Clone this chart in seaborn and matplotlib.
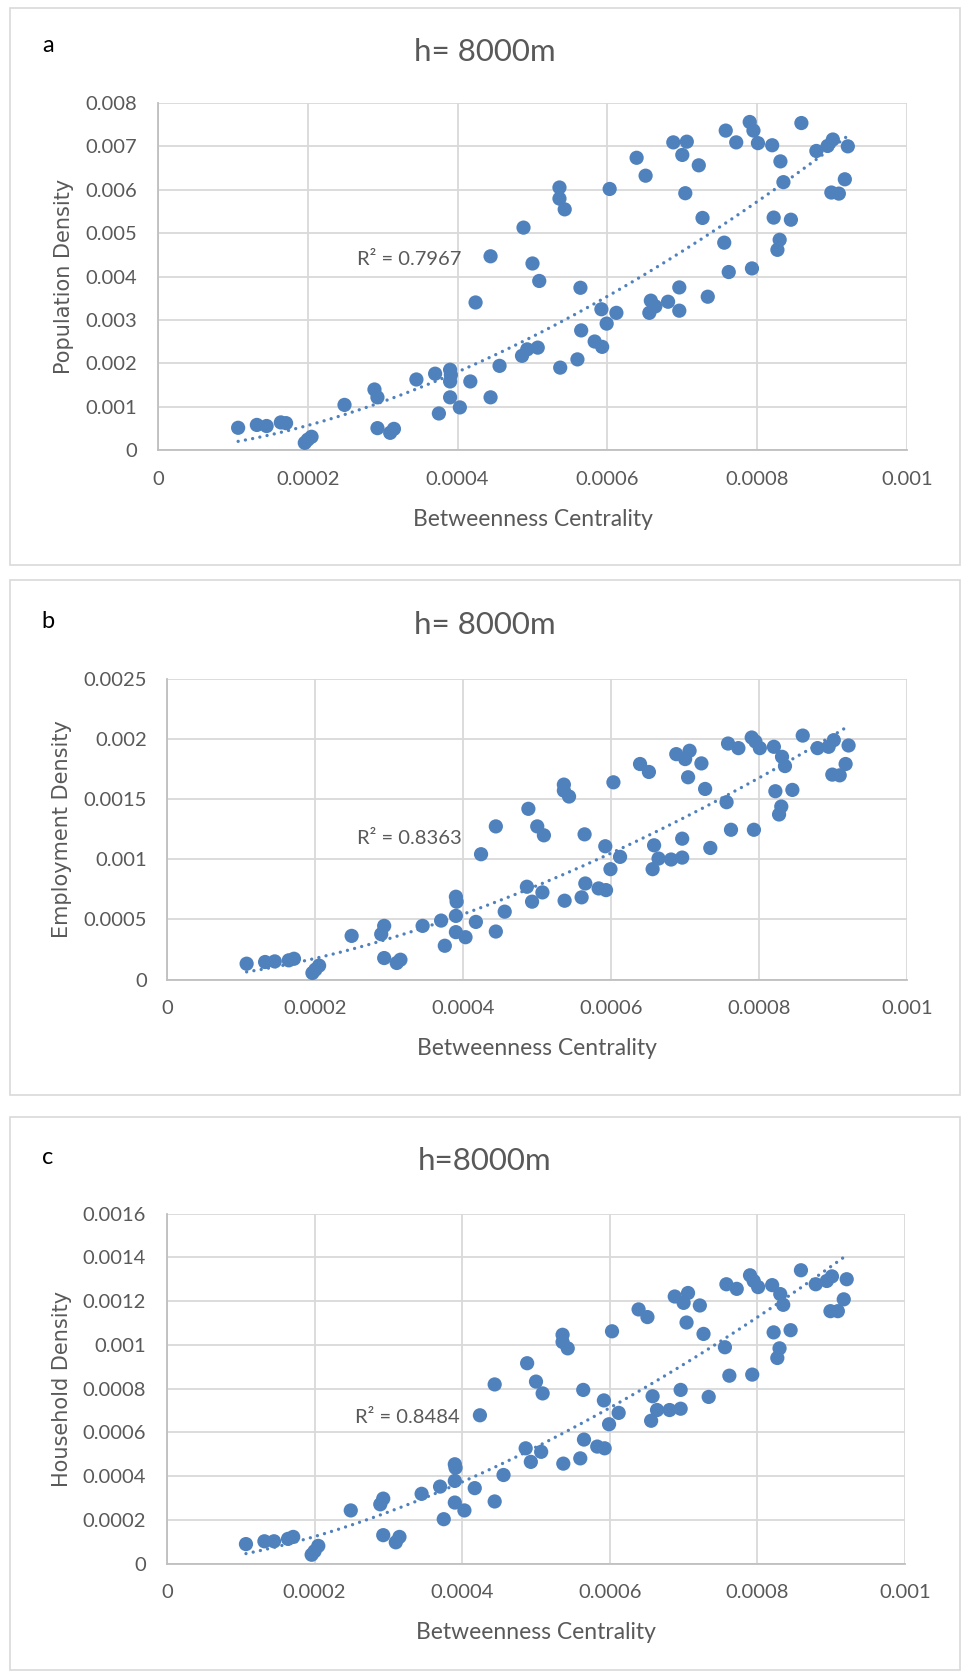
import numpy as np
import pandas as pd
import seaborn as sns
import matplotlib.pyplot as plt
from matplotlib.patches import Rectangle
from matplotlib.ticker import MultipleLocator, FuncFormatter

# --------------------------
# Data
# --------------------------
betweenness = [
    0.000107, 0.000132, 0.000145, 0.000164, 0.000171, 0.000196, 0.000200, 0.000205,
    0.000249, 0.000289, 0.000293, 0.000293, 0.000310, 0.000315, 0.000345, 0.000370,
    0.000375, 0.000390, 0.000391, 0.000390, 0.000390, 0.000403, 0.000417, 0.000424,
    0.000444, 0.000444, 0.000456, 0.000486, 0.000488, 0.000493, 0.000500, 0.000507,
    0.000509, 0.000536, 0.000536, 0.000537, 0.000543, 0.000560, 0.000564, 0.000565,
    0.000583, 0.000592, 0.000593, 0.000599, 0.000603, 0.000612, 0.000639, 0.000651,
    0.000656, 0.000658, 0.000664, 0.000681, 0.000688, 0.000696, 0.000696, 0.000700,
    0.000704, 0.000706, 0.000722, 0.000727, 0.000734, 0.000756, 0.000758, 0.000762,
    0.000772, 0.000790, 0.000793, 0.000795, 0.000801, 0.000820, 0.000822, 0.000827,
    0.000830, 0.000831, 0.000835, 0.000845, 0.000859, 0.000879, 0.000894, 0.000899,
    0.000901, 0.000909, 0.000917, 0.000921,
]

population_density = [
    0.000512, 0.000578, 0.000553, 0.000636, 0.000619, 0.000165, 0.000239, 0.000305,
    0.001040, 0.001395, 0.001214, 0.000504, 0.000396, 0.000487, 0.001626, 0.001759,
    0.000842, 0.001850, 0.001730, 0.001580, 0.001214, 0.000982, 0.001580, 0.003401,
    0.001214, 0.004466, 0.001940, 0.002171, 0.005127, 0.002320, 0.004300, 0.002360,
    0.003897, 0.006052, 0.005796, 0.001899, 0.005548, 0.002089, 0.003740, 0.002757,
    0.002501, 0.003245, 0.002378, 0.002914, 0.006018, 0.003162, 0.006737, 0.006324,
    0.003162, 0.003443, 0.003311, 0.003418, 0.007092, 0.003748, 0.003212, 0.006803,
    0.005920, 0.007108, 0.006563, 0.005350, 0.003534, 0.004780, 0.007364, 0.004103,
    0.007092, 0.007562, 0.004186, 0.007364, 0.007075, 0.007026, 0.005358, 0.004615,
    0.004846, 0.006654, 0.006175, 0.005309, 0.007538, 0.006894, 0.007010, 0.005936,
    0.007158, 0.005911, 0.006241, 0.007001,
]

employment_density = [
    0.000132, 0.000146, 0.000151, 0.000160, 0.000173, 0.000055, 0.000083, 0.000116,
    0.000363, 0.000377, 0.000446, 0.000179, 0.000138, 0.000165, 0.000446, 0.000490,
    0.000281, 0.000688, 0.000647, 0.000529, 0.000394, 0.000352, 0.000479, 0.001041,
    0.000399, 0.001272, 0.000564, 0.000771, 0.001418, 0.000647, 0.001272, 0.000724,
    0.001198, 0.001619, 0.001569, 0.000655, 0.001520, 0.000683, 0.001206, 0.000798,
    0.000757, 0.001107, 0.000743, 0.000917, 0.001638, 0.001019, 0.001790, 0.001724,
    0.000917, 0.001115, 0.001005, 0.000997, 0.001872, 0.001170, 0.001013, 0.001831,
    0.001680, 0.001900, 0.001795, 0.001583, 0.001093, 0.001473, 0.001960, 0.001244,
    0.001922, 0.002010, 0.001244, 0.001977, 0.001922, 0.001933, 0.001564, 0.001371,
    0.001437, 0.001850, 0.001773, 0.001575, 0.002026, 0.001922, 0.001933, 0.001702,
    0.001988, 0.001696, 0.001790, 0.001944,
]

household_density = [
    0.0000892, 0.000102, 0.000102, 0.000113, 0.000122, 0.0000405, 0.0000567, 0.000081,
    0.000243, 0.000271, 0.000297, 0.000130, 0.0000973, 0.000122, 0.000319, 0.000352,
    0.000203, 0.000454, 0.000438, 0.000378, 0.000279, 0.000243, 0.000345, 0.000678,
    0.000284, 0.000819, 0.000405, 0.000527, 0.000916, 0.000465, 0.000832, 0.000511,
    0.000778, 0.001046, 0.001013, 0.000457, 0.000984, 0.000481, 0.000794, 0.000567,
    0.000535, 0.000746, 0.000527, 0.000637, 0.001062, 0.000689, 0.001162, 0.001127,
    0.000653, 0.000765, 0.000702, 0.000702, 0.001221, 0.000794, 0.000708, 0.001192,
    0.001102, 0.001237, 0.001180, 0.001050, 0.000762, 0.000989, 0.001277, 0.000859,
    0.001256, 0.001318, 0.000864, 0.001292, 0.001264, 0.001273, 0.001057, 0.000940,
    0.000984, 0.001232, 0.001183, 0.001067, 0.001341, 0.001277, 0.001292, 0.001154,
    0.001313, 0.001154, 0.001208, 0.001300,
]

panel_letters = ["a", "b", "c"]
panel_titles = ["h= 8000m", "h= 8000m", "h=8000m"]
y_labels = ["Population Density", "Employment Density", "Household Density"]
y_max = [0.008, 0.0025, 0.0016]
y_step = [0.001, 0.0005, 0.0002]
r2_labels = ["R² = 0.7967", "R² = 0.8363", "R² = 0.8484"]

df = pd.DataFrame({
    "Betweenness Centrality": betweenness,
    "Population Density": population_density,
    "Employment Density": employment_density,
    "Household Density": household_density,
})

# --------------------------
# Style
# --------------------------
sns.set_theme(style="white")
plt.rcParams["font.family"] = ["Lato", "DejaVu Sans"]

BLUE = "#4f81bd"
GRAY_TXT = "#595959"
GRID = "#d9d9d9"

W, H = 962, 1671
fig = plt.figure(figsize=(W / 100, H / 100), dpi=100)

# pixel layout of the three panels
boxes = [(10, 8, 960, 565), (10, 580, 960, 1095), (10, 1117, 960, 1670)]
axes_px = [(158, 103, 907, 450), (167.5, 678.5, 907, 979.6), (167, 1213.6, 905, 1563.6)]
title_y = [52, 625, 1161]
letter_y = [46, 621, 1157]
r2_pos = [(0.000266, 0.0044), (0.000256, 0.00117), (0.000255, 0.000666)]

for i in range(3):
    x0, y0, x1, y1 = boxes[i]
    fig.add_artist(Rectangle((x0 / W, 1 - y1 / H), (x1 - x0) / W, (y1 - y0) / H,
                             transform=fig.transFigure, fill=False,
                             edgecolor=GRID, linewidth=1.2))

    l, t, r, b = axes_px[i]
    ax = fig.add_axes([l / W, 1 - b / H, (r - l) / W, (b - t) / H])

    ycol = y_labels[i]
    sns.scatterplot(data=df, x="Betweenness Centrality", y=ycol, ax=ax,
                    color=BLUE, s=105, edgecolor="none", zorder=3)

    # power trendline (Excel style: fit in log-log space)
    bexp, loga = np.polyfit(np.log(df["Betweenness Centrality"]), np.log(df[ycol]), 1)
    xs = np.linspace(df["Betweenness Centrality"].min(), df["Betweenness Centrality"].max(), 200)
    trend = pd.DataFrame({"x": xs, "y": np.exp(loga) * xs ** bexp})
    sns.lineplot(data=trend, x="x", y="y", ax=ax, color=BLUE, lw=2.4,
                 linestyle=(0, (0.01, 2.2)), dash_capstyle="round", zorder=4)

    ax.set_xlim(0, 0.001)
    ax.set_ylim(0, y_max[i])
    ax.xaxis.set_major_locator(MultipleLocator(0.0002))
    ax.yaxis.set_major_locator(MultipleLocator(y_step[i]))
    fmt = FuncFormatter(lambda v, _: f"{v:g}")
    ax.xaxis.set_major_formatter(fmt)
    ax.yaxis.set_major_formatter(fmt)
    ax.grid(True, color=GRID, linewidth=1.3)
    ax.set_axisbelow(True)
    for side in ["top", "right"]:
        ax.spines[side].set_visible(False)
    for side in ["left", "bottom"]:
        ax.spines[side].set_color("#bfbfbf")
        ax.spines[side].set_linewidth(1.3)
    ax.tick_params(length=0, labelsize=14.5, labelcolor=GRAY_TXT, pad=15)

    ax.set_xlabel("Betweenness Centrality", fontsize=16.5, color=GRAY_TXT, labelpad=15)
    ax.set_ylabel(ycol, fontsize=15, color=GRAY_TXT, labelpad=8,
                  family=["DejaVu Sans"])

    ax.text(r2_pos[i][0], r2_pos[i][1], r2_labels[i], fontsize=14.5,
            color=GRAY_TXT, ha="left", va="center")

    fig.text(485 / W, 1 - title_y[i] / H, panel_titles[i], fontsize=22.5,
             color=GRAY_TXT, ha="center", va="center")
    fig.text(48 / W, 1 - letter_y[i] / H, panel_letters[i], fontsize=17,
             color="black", ha="center", va="center")

fig.savefig("out.png", dpi=100)
